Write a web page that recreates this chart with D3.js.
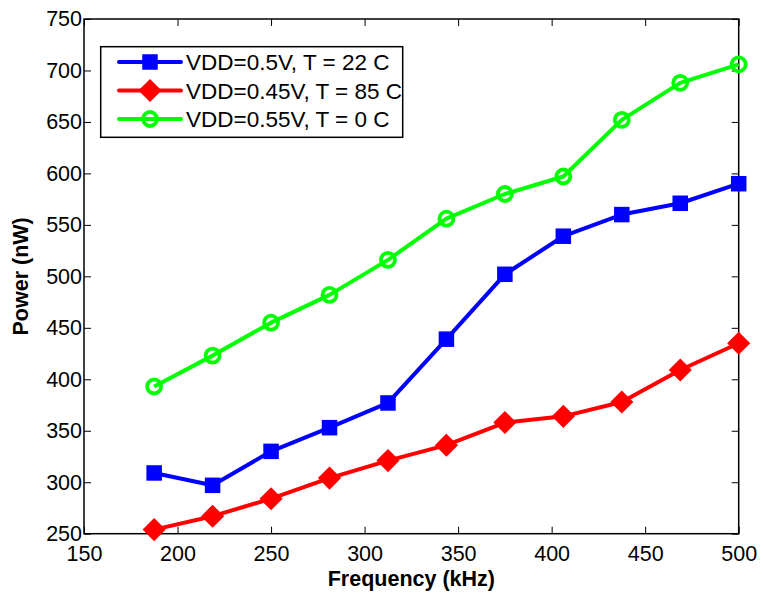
<!DOCTYPE html>
<html lang="en">
<head>
    <meta charset="UTF-8">
    <script src="https://d3js.org/d3.v7.min.js"></script>
    <style>
        body {
            margin: 0;
            background: white;
            font-family: "Liberation Sans", Arial, sans-serif;
        }
    </style>
</head>
<body>
    <div id="chart"></div>
    <script>
        // data
        const frequency = [187.5, 218.75, 250, 281.25, 312.5, 343.75, 375, 406.25, 437.5, 468.75, 500];
        const vdd05 = [309, 297, 330, 353, 377, 439, 502, 539, 560, 571, 590];
        const vdd045 = [254, 267, 284, 304, 321, 336, 358, 364, 378, 409, 435];
        const vdd055 = [393, 423, 455, 482, 516, 556, 580, 597, 652, 688, 706];
        const xTicks = [150, 200, 250, 300, 350, 400, 450, 500];
        const yTicks = [250, 300, 350, 400, 450, 500, 550, 600, 650, 700, 750];

        const series = [
            { name: "VDD=0.5V, T = 22 C", values: vdd05, color: "#0000ff", marker: "square" },
            { name: "VDD=0.45V, T = 85 C", values: vdd045, color: "#ff0000", marker: "diamond" },
            { name: "VDD=0.55V, T = 0 C", values: vdd055, color: "#00ff00", marker: "circle" }
        ];

        const width = 763, height = 595;
        const margin = { top: 19, right: 24.3, bottom: 61.3, left: 84 };

        const svg = d3.select("#chart").append("svg")
            .attr("width", width)
            .attr("height", height);

        const x = d3.scaleLinear()
            .domain([150, 500])
            .range([margin.left, width - margin.right]);

        const y = d3.scaleLinear()
            .domain([250, 750])
            .range([height - margin.bottom, margin.top]);

        const tickLen = 7;

        // axes (inward ticks, box all round)
        svg.append("g")
            .attr("transform", `translate(0,${height - margin.bottom})`)
            .call(d3.axisBottom(x).tickValues(xTicks).tickSizeInner(-tickLen).tickSizeOuter(0).tickPadding(12))
            .call(g => g.selectAll("text").style("font-size", "21.5px").attr("fill", "#000"));

        svg.append("g")
            .attr("transform", `translate(0,${margin.top})`)
            .call(d3.axisTop(x).tickValues(xTicks).tickSizeInner(-tickLen).tickSizeOuter(0).tickFormat(""));

        svg.append("g")
            .attr("transform", `translate(${margin.left},0)`)
            .call(d3.axisLeft(y).tickValues(yTicks).tickSizeInner(-tickLen).tickSizeOuter(0).tickPadding(2))
            .call(g => g.selectAll("text").style("font-size", "21.5px").attr("fill", "#000"));

        svg.append("g")
            .attr("transform", `translate(${width - margin.right},0)`)
            .call(d3.axisRight(y).tickValues(yTicks).tickSizeInner(-tickLen).tickSizeOuter(0).tickFormat(""));

        svg.selectAll(".domain").remove();
        svg.selectAll(".tick line").attr("stroke", "#000").attr("stroke-width", 1);
        svg.selectAll(".tick text").style("font-family", "'Liberation Sans', Arial, sans-serif");

        svg.append("rect")
            .attr("x", margin.left)
            .attr("y", margin.top)
            .attr("width", width - margin.left - margin.right)
            .attr("height", height - margin.top - margin.bottom)
            .attr("fill", "none")
            .attr("stroke", "#000")
            .attr("stroke-width", 1.5);

        // axis titles
        svg.append("text")
            .attr("x", (margin.left + width - margin.right) / 2)
            .attr("y", 586)
            .attr("text-anchor", "middle")
            .style("font-size", "21.5px")
            .style("font-weight", "bold")
            .text("Frequency (kHz)");

        svg.append("text")
            .attr("transform", `translate(28,${(margin.top + height - margin.bottom) / 2}) rotate(-90)`)
            .attr("text-anchor", "middle")
            .style("font-size", "21.5px")
            .style("font-weight", "bold")
            .text("Power (nW)");

        function drawMarker(g, type, color) {
            if (type === "square") {
                g.append("rect")
                    .attr("x", -7).attr("y", -7)
                    .attr("width", 14).attr("height", 14)
                    .attr("fill", color).attr("stroke", color).attr("stroke-width", 1.5);
            } else if (type === "diamond") {
                g.append("path")
                    .attr("d", "M0,-10.5L10.5,0L0,10.5L-10.5,0Z")
                    .attr("fill", color).attr("stroke", color).attr("stroke-width", 1.5);
            } else {
                g.append("circle")
                    .attr("r", 7)
                    .attr("fill", "none").attr("stroke", color).attr("stroke-width", 3.8);
            }
        }

        const line = d3.line()
            .x((d, i) => x(frequency[i]))
            .y(d => y(d));

        series.forEach(s => {
            svg.append("path")
                .datum(s.values)
                .attr("fill", "none")
                .attr("stroke", s.color)
                .attr("stroke-width", 4)
                .attr("stroke-linejoin", "round")
                .attr("d", line);

            s.values.forEach((v, i) => {
                const g = svg.append("g")
                    .attr("transform", `translate(${x(frequency[i])},${y(v)})`);
                drawMarker(g, s.marker, s.color);
            });
        });

        // legend
        const legend = svg.append("g");
        legend.append("rect")
            .attr("x", 100.7)
            .attr("y", 46.7)
            .attr("width", 302)
            .attr("height", 90.6)
            .attr("fill", "white")
            .attr("stroke", "#000")
            .attr("stroke-width", 1.5);

        const rowY = [62, 90.5, 119];
        series.forEach((s, i) => {
            const row = legend.append("g").attr("transform", `translate(0,${rowY[i]})`);
            row.append("line")
                .attr("x1", 119).attr("x2", 181)
                .attr("stroke", s.color)
                .attr("stroke-width", 4)
                .attr("stroke-linecap", "round");
            drawMarker(row.append("g").attr("transform", "translate(150,0)"), s.marker, s.color);
            row.append("text")
                .attr("x", 186)
                .attr("y", 8)
                .style("font-size", "22.5px")
                .text(s.name);
        });
    </script>
</body>
</html>
